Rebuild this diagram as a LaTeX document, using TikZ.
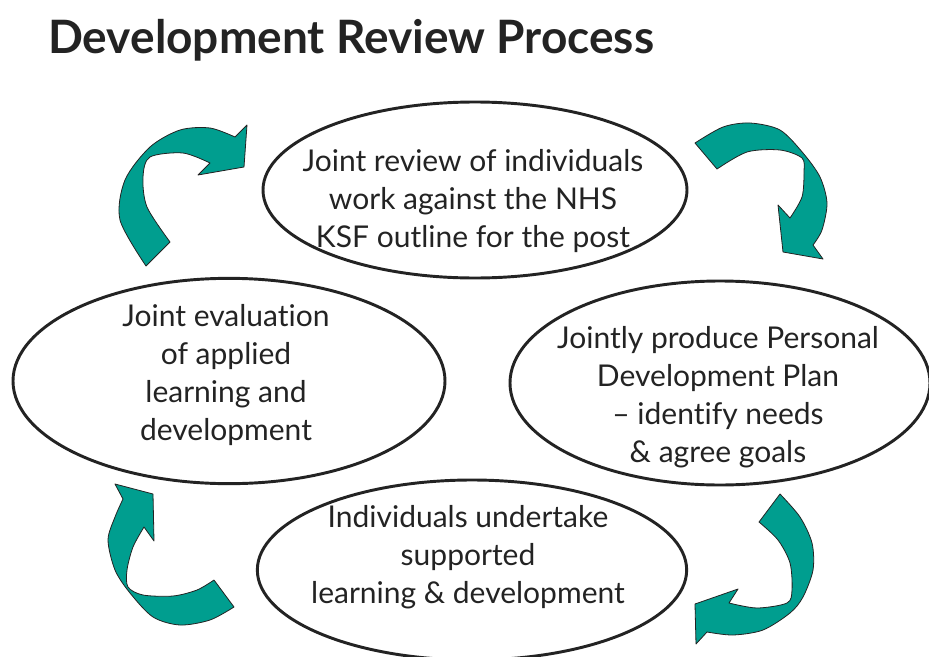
\documentclass[tikz,border=0pt]{standalone}
\usepackage{fontspec}
\setmainfont{Lato}[Ligatures=NoCommon]
\usetikzlibrary{shapes.geometric}
\definecolor{arrow_teal}{RGB}{0, 158, 143}
\definecolor{ink}{RGB}{35, 35, 35}

\begin{document}
\begin{tikzpicture}[
    x=0.75pt, y=-0.75pt,
    phase/.style 2 args={
        ellipse,
        draw=ink,
        line width=2.2pt,
        inner sep=0pt,
        minimum width=#1,
        minimum height=#2
    },
    phasetext/.style={
        align=center,
        text=ink,
        font=\fontsize{22.5}{28.5}\selectfont
    },
    cyclearrow/.style={
        fill=arrow_teal,
        draw=ink,
        line width=0.6pt,
        line join=round
    }
]
\useasboundingbox (0,0) rectangle (929,657);

% Title
\node[anchor=base west, inner sep=0pt, text=ink, font=\bfseries\fontsize{34.5}{40}\selectfont] (title) at (48,53) {Development Review Process};

% Curved arrows between the steps
\filldraw[cyclearrow] plot[smooth] coordinates {(146,266) (120,220) (125,180) (150,147) (180,130) (210,128) (235,137)}
    -- (247,125) -- (244,167) -- (198,175) -- (210,163)
    -- plot[smooth] coordinates {(210,163) (183,153) (150,157) (143,177) (147,207) (170,242)} -- cycle;
\filldraw[cyclearrow] plot[smooth] coordinates {(695,143) (723,127) (750,123) (780,130) (803,153) (820,177) (827,203) (822,230) (813,245)}
    -- (823,259) -- (783,252) -- (778,205) -- (790,218)
    -- plot[smooth] coordinates {(790,218) (802,197) (804,172) (802,158) (780,150) (747,152) (717,169)} -- cycle;
\filldraw[cyclearrow] plot[smooth] coordinates {(780,494) (800,517) (812,543) (813,570) (803,597) (790,613) (763,630) (733,635) (707,632)}
    -- (696,644) -- (695,604) -- (738,589) -- (729,603)
    -- plot[smooth] coordinates {(729,603) (757,608) (787,603) (792,590) (790,563) (778,540) (759,522)} -- cycle;
\filldraw[cyclearrow] plot[smooth] coordinates {(234,607) (210,620) (180,625) (153,617) (130,593) (115,570) (108,540) (115,517) (123,499)}
    -- (115,484) -- (153,494) -- (154,541) -- (144,527)
    -- plot[smooth] coordinates {(144,527) (133,547) (127,570) (128,587) (143,595) (173,596) (197,590) (214,580)} -- cycle;

% Step ellipses
\node[phase={318pt}{132pt}] (review) at (475,190) {};
\node[phase={324pt}{154pt}] (evaluation) at (229,381) {};
\node[phase={315pt}{153pt}] (plan) at (720,383) {};
\node[phase={322pt}{135pt}] (undertake) at (472,570) {};

% Step texts
\node[phasetext] (reviewtext) at (473,201) {Joint review of individuals\\work against the NHS\\KSF outline for the post};
\node[phasetext] (evaluationtext) at (226,375) {Joint evaluation\\of applied\\learning and\\development};
\node[phasetext] (plantext) at (718,397) {Jointly produce Personal\\Development Plan\\-- identify needs\\\& agree goals};
\node[phasetext] (undertaketext) at (468,557) {Individuals undertake\\supported\\learning \& development};

\end{tikzpicture}
\end{document}
